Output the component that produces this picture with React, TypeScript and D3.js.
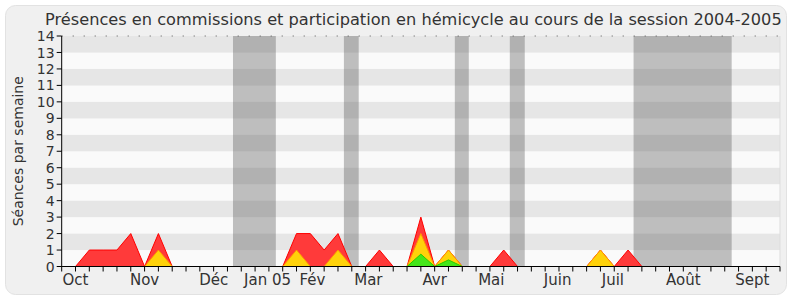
import React from "react";
import * as d3 from "d3";

const weeks: number[] = d3.range(0, 53);
const presences: number[] = [0,0,1,1,1,2,0,2,0,0,0,0,0,0,0,0,0,2,2,1,2,0,0,1,0,0,3,0,1,0,0,0,1,0,0,0,0,0,0,1,0,1,0,0,0,0,0,0,0,0,0,0,0];
const participations: number[] = [0,0,0,0,0,0,0,1,0,0,0,0,0,0,0,0,0,1,0,0,1,0,0,0,0,0,2,0,1,0,0,0,0,0,0,0,0,0,0,1,0,0,0,0,0,0,0,0,0,0,0,0,0];
const interventions: number[] = [0,0,0,0,0,0,0,0,0,0,0,0,0,0,0,0,0,0,0,0,0,0,0,0,0,0,0.75,0,0.4,0,0,0,0,0,0,0,0,0,0,0,0,0,0,0,0,0,0,0,0,0,0,0,0];
const vacations: [number, number][] = [[12.4, 15.5], [20.43, 21.5], [28.46, 29.47], [32.44, 33.52], [41.4, 48.5]];
const monthLabels: string[] = ["Oct", "Nov", "Déc", "Jan 05", "Fév", "Mar", "Avr", "Mai", "Juin", "Juil", "Août", "Sept"];
const monthPos: number[] = [1, 6, 11, 14.9, 18.15, 22.2, 27, 31.1, 35.9, 39.9, 45, 50];
const yTicks: number[] = d3.range(0, 15);
const title = "Présences en commissions et participation en hémicycle au cours de la session 2004-2005";
const yTitle = "Séances par semaine";

export default function App() {
  const W = 800, H = 300;
  const x = d3.scaleLinear().domain([0, 52]).range([61.7, 780]);
  const y = d3.scaleLinear().domain([0, 14]).range([266.5, 36]);
  const area = (vals: number[]) =>
    d3.area<number>().x((_, i) => x(weeks[i])).y0(y(0)).y1((d) => y(d))(vals) || "";
  const font = "DejaVu Sans, Verdana, sans-serif";
  return (
    <svg width={W} height={H} style={{ position: "absolute", left: 0, top: 0 }} fontFamily={font}>
      <rect x={0} y={0} width={W} height={H} fill="#ffffff" />
      <rect x={5.5} y={5.5} width={781} height={289} rx={10} fill="#f0f0f0" stroke="#e2e2e2" />
      <text x={45} y={25} fontSize={16.2} fill="#333">{title}</text>
      {/* plot background stripes */}
      {yTicks.slice(0, 14).map((t) => (
        <rect key={t} x={x(0)} y={y(t + 1)} width={x(52) - x(0)} height={y(t) - y(t + 1)}
          fill={t % 2 === 1 ? "#e6e6e6" : "#fafafa"} />
      ))}
      {/* vacation bands */}
      {vacations.map(([a, b], i) => (
        <rect key={i} x={x(a)} y={y(14)} width={x(b) - x(a)} height={y(0) - y(14)} fill="rgba(76,76,76,0.35)" />
      ))}
      <line x1={x(0)} x2={x(52)} y1={y(14)} y2={y(14)} stroke="#555" strokeDasharray="1 10" />
      <line x1={x(52)} x2={x(52)} y1={y(14)} y2={y(0)} stroke="#ddd" />
      {/* areas */}
      <path d={area(presences)} fill="#ff3a3a" stroke="#ff0000" strokeWidth={1} />
      <path d={area(participations)} fill="#ffd20a" stroke="#ff9900" strokeWidth={1} />
      <path d={area(interventions)} fill="#44e61a" stroke="#22cc00" strokeWidth={1} />
      {/* y axis */}
      <line x1={x(0)} x2={x(0)} y1={y(14)} y2={y(0)} stroke="#000" />
      {yTicks.map((t) => (
        <g key={t}>
          <line x1={x(0) - 5} x2={x(0)} y1={y(t)} y2={y(t)} stroke="#000" />
          <text x={x(0) - 7} y={y(t)} dy="0.36em" textAnchor="end" fontSize={14} fill="#333">{t}</text>
        </g>
      ))}
      <text transform={`translate(23,${(y(0) + y(14)) / 2}) rotate(-90)`} textAnchor="middle" fontSize={14} fill="#333">{yTitle}</text>
      {/* x axis */}
      <line x1={x(0)} x2={x(52)} y1={y(0)} y2={y(0)} stroke="#000" />
      {weeks.map((w) => (
        <line key={w} x1={x(w)} x2={x(w)} y1={y(0)} y2={y(0) + 5} stroke="#000" />
      ))}
      {monthLabels.map((m, i) => (
        <text key={m} x={x(monthPos[i])} y={285} textAnchor="middle" fontSize={15} fill="#333">{m}</text>
      ))}
    </svg>
  );
}
